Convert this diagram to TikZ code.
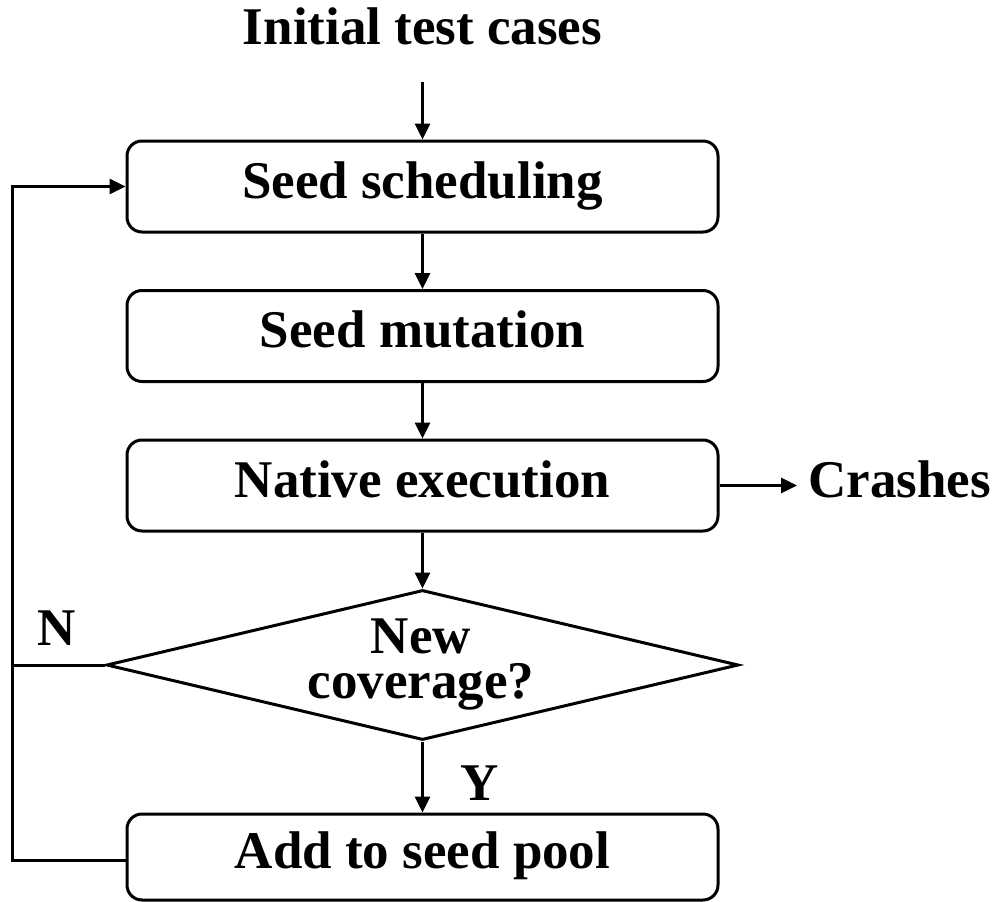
\documentclass[tikz,border=0pt]{standalone}
\usepackage{fontspec}
\setmainfont{Liberation Serif}
\usetikzlibrary{arrows.meta,shapes.geometric}
\begin{document}
\begin{tikzpicture}[x=1pt,y=-1pt,
  every node/.style={font=\fontsize{53}{45}\selectfont\bfseries},
  stepbox/.style={draw, line width=3pt, rounded corners=15pt,
    minimum width=591pt, minimum height=91pt, inner sep=0pt,
    text height=36pt, text depth=13pt},
  flow/.style={line width=3pt, -{Triangle[length=16pt,width=15pt]}},
  plain/.style={line width=3pt}]
\useasboundingbox (0,0) rectangle (997,902);

% process steps
\node[anchor=base] (start) at (422.5,45) {Initial test cases};
\node[stepbox] (sched) at (422.5,186.5) {Seed scheduling};
\node[stepbox] (mut)   at (422.5,336)   {Seed mutation};
\node[stepbox] (exec)  at (422.5,485.5) {Native execution};
\node[diamond, draw, line width=3pt, minimum width=632pt,
      minimum height=150pt, inner sep=0pt] (dec) at (422.5,665) {};
\node[anchor=base, inner sep=0pt, text height=36pt, text depth=0pt]
  (decline1) at (421,653) {New};
\node[anchor=base, inner sep=0pt, text height=36pt, text depth=13pt]
  (decline2) at (421,698) {coverage?};
\node[stepbox, minimum height=86pt] (pool) at (422.5,857) {Add to seed pool};
\node[anchor=base west, inner sep=0pt] (crash) at (808,497) {Crashes};

% labels of the decision branches
\node[anchor=base, inner sep=0pt] (nlab) at (57,645) {N};
\node[anchor=base, inner sep=0pt] (ylab) at (480,800) {Y};

% connectors
\coordinate (in) at (422.5,82);
\coordinate (loopbot) at (12,860);
\coordinate (looptop) at (12,186.5);
\draw[flow] (in) -- (sched);
\draw[flow] (sched) -- (mut);
\draw[flow] (mut) -- (exec);
\draw[flow] (exec) -- (dec);
\draw[flow] (dec) -- (pool);
\draw[flow] (exec.east) -- (797,485.5) coordinate (crashtip);
\draw[flow] ([yshift=-3pt]pool.west) -- (loopbot) -- (looptop) -- (sched.west);
\draw[plain] (dec.west) -- (loopbot |- dec.west);
\end{tikzpicture}
\end{document}
